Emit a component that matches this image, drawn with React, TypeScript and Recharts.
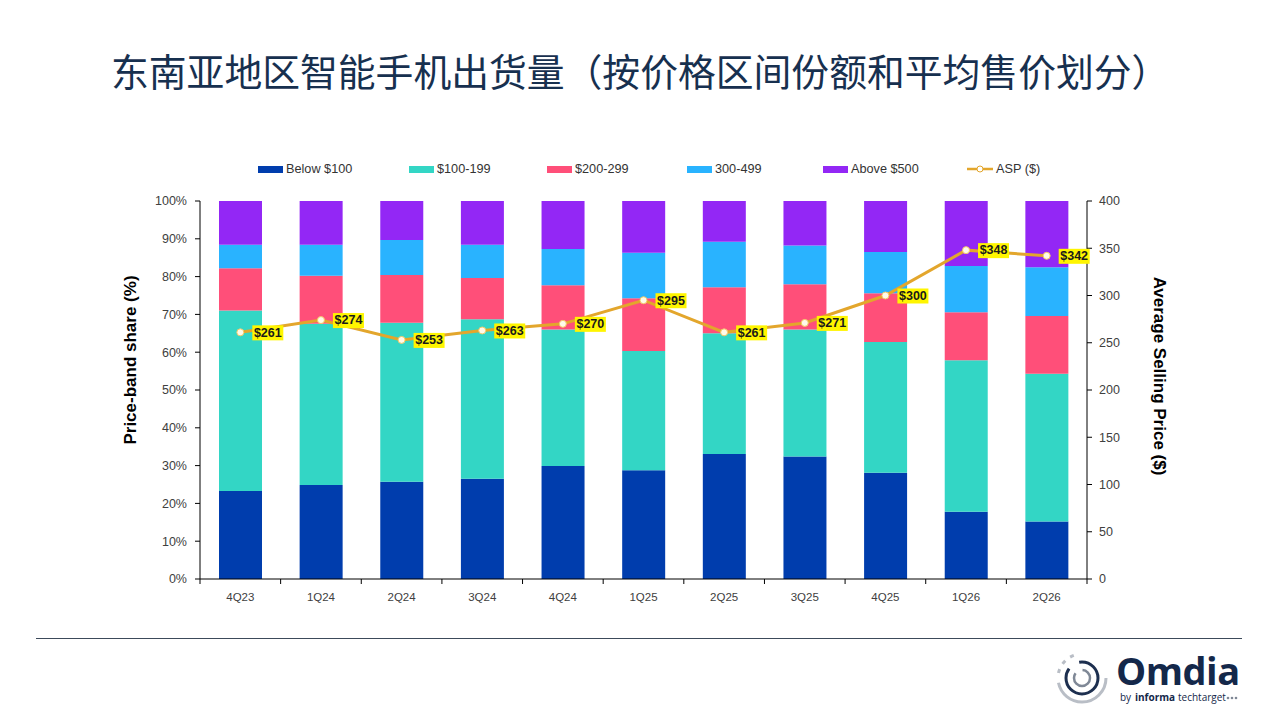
import React from "react";
import {
  ComposedChart,
  Bar,
  Line,
  XAxis,
  YAxis,
  LabelList,
} from "recharts";

const quarters = ["4Q23", "1Q24", "2Q24", "3Q24", "4Q24", "1Q25", "2Q25", "3Q25", "4Q25", "1Q26", "2Q26"];

// price-band shares (%), bottom to top of each stack
const below100 = [23.3, 24.9, 25.7, 26.5, 29.9, 28.8, 33.1, 32.4, 28.1, 17.8, 15.2];
const band100to199 = [47.7, 42.6, 42.1, 42.2, 36.1, 31.5, 31.9, 33.6, 34.6, 40.1, 39.1];
const band200to299 = [11.2, 12.7, 12.6, 10.9, 11.7, 14.0, 12.2, 12.0, 12.9, 12.7, 15.3];
const band300to499 = [6.2, 8.2, 9.3, 8.8, 9.6, 12.0, 12.0, 10.2, 10.9, 12.2, 12.9];
const above500 = [11.6, 11.6, 10.3, 11.6, 12.7, 13.7, 10.8, 11.8, 13.5, 17.2, 17.5];

const asp = [261, 274, 253, 263, 270, 295, 261, 271, 300, 348, 342];

const shareTicks = [0, 10, 20, 30, 40, 50, 60, 70, 80, 90, 100];
const aspTicks = [0, 50, 100, 150, 200, 250, 300, 350, 400];

const SERIES = [
  { key: "below100", name: "Below $100", color: "#003DAD", values: below100 },
  { key: "b100", name: "$100-199", color: "#33D6C5", values: band100to199 },
  { key: "b200", name: "$200-299", color: "#FF4F79", values: band200to299 },
  { key: "b300", name: "300-499", color: "#29B3FF", values: band300to499 },
  { key: "above500", name: "Above $500", color: "#9327F5", values: above500 },
];

const LINE_COLOR = "#E3A62C";
const FONT = '"Liberation Sans", Arial, sans-serif';

// plot area in page pixels
const PLOT_LEFT = 200;
const PLOT_RIGHT = 1087;
const BAND = (PLOT_RIGHT - PLOT_LEFT) / quarters.length;

const LEGEND_LEFT = [258, 409, 547, 687, 823, 967];

const data = quarters.map((q, i) => {
  const row: Record<string, number | string> = { quarter: q, asp: asp[i] };
  SERIES.forEach((s) => {
    row[s.key] = s.values[i];
  });
  return row;
});

function QuarterTick(props: any) {
  const { x, y, payload, index } = props;
  const last = index === quarters.length - 1;
  return (
    <g>
      <line x1={x - BAND / 2} x2={x - BAND / 2} y1={y} y2={y + 5} stroke="#000" />
      {last && <line x1={x + BAND / 2} x2={x + BAND / 2} y1={y} y2={y + 5} stroke="#000" />}
      <text
        x={x}
        y={y + 19}
        textAnchor="middle"
        dominantBaseline="middle"
        fontSize={11.5}
        fontFamily={FONT}
        fill="#404040"
      >
        {payload.value}
      </text>
    </g>
  );
}

function AspLabel(props: any) {
  const { x, y, value } = props;
  return (
    <g>
      <rect x={x + 12} y={y - 7} width={31} height={15} fill="#FFF500" />
      <text
        x={x + 27.5}
        y={y + 1}
        textAnchor="middle"
        dominantBaseline="middle"
        fontSize={12.5}
        fontWeight="bold"
        fontFamily={FONT}
        fill="#1a1a1a"
      >
        ${value}
      </text>
    </g>
  );
}

function OmdiaLogo() {
  const small = { fontFamily: '"Open Sans", sans-serif', fontSize: 10, fill: "#14284a" };
  return (
    <div style={{ position: "absolute", left: 1054, top: 650 }}>
      <svg width={190} height={60} style={{ position: "absolute", left: 0, top: 0 }}>
        <circle cx={28} cy={28} r={24} fill="none" stroke="#b9bec6" strokeWidth={3} strokeDasharray="70 10 4 6 4 6 4 50" />
        <circle cx={28} cy={28} r={16} fill="none" stroke="#1d2f4f" strokeWidth={3} strokeDasharray="60 12" />
        <circle cx={28} cy={28} r={8} fill="none" stroke="#7f8896" strokeWidth={2.5} strokeDasharray="30 8" />
        <text x={66} y={51} {...small}>by</text>
        <text x={81} y={51} {...small} fontWeight={700}>informa</text>
        <text x={124} y={51} {...small}>techtarget</text>
        <circle cx={174} cy={48} r={1.3} fill="#7f8896" />
        <circle cx={178} cy={48} r={1.3} fill="#7f8896" />
        <circle cx={182} cy={48} r={1.3} fill="#7f8896" />
      </svg>
      <div
        style={{
          position: "absolute",
          left: 62,
          top: 2,
          fontFamily: '"Open Sans", sans-serif',
          fontWeight: 700,
          fontSize: 38,
          lineHeight: "36px",
          color: "#14284a",
          letterSpacing: -0.5,
        }}
      >
        Omdia
      </div>
    </div>
  );
}

export default function App() {
  return (
    <div
      style={{
        position: "absolute",
        left: 0,
        top: 0,
        width: 1280,
        height: 720,
        background: "#fff",
        overflow: "hidden",
        fontFamily: FONT,
      }}
    >
      <div
        style={{
          position: "absolute",
          left: 111,
          top: 49,
          fontFamily: '"Noto Sans CJK SC", sans-serif',
          fontSize: 37.8,
          lineHeight: "42px",
          color: "#17304f",
          whiteSpace: "nowrap",
        }}
      >
        东南亚地区智能手机出货量（按价格区间份额和平均售价划分）
      </div>

      {/* legend */}
      {SERIES.map((s, i) => (
        <div
          key={s.key}
          style={{ position: "absolute", left: LEGEND_LEFT[i], top: 162, display: "flex", alignItems: "center", height: 14 }}
        >
          <div style={{ width: 25, height: 7, background: s.color, marginRight: 3 }} />
          <span style={{ fontSize: 12.7, color: "#333", whiteSpace: "nowrap" }}>{s.name}</span>
        </div>
      ))}
      <div style={{ position: "absolute", left: LEGEND_LEFT[5], top: 162, display: "flex", alignItems: "center", height: 14 }}>
        <svg width={26} height={10} style={{ marginRight: 3 }}>
          <line x1={0} x2={26} y1={5} y2={5} stroke={LINE_COLOR} strokeWidth={2.5} />
          <circle cx={13} cy={5} r={3} fill="#fff" stroke={LINE_COLOR} strokeWidth={1} />
        </svg>
        <span style={{ fontSize: 12.7, color: "#333", whiteSpace: "nowrap" }}>ASP ($)</span>
      </div>

      <div
        style={{
          position: "absolute",
          left: 131,
          top: 360,
          transform: "translate(-50%, -50%) rotate(-90deg)",
          fontSize: 17,
          fontWeight: "bold",
          color: "#000",
          whiteSpace: "nowrap",
        }}
      >
        Price-band share (%)
      </div>
      <div
        style={{
          position: "absolute",
          left: 1159,
          top: 376,
          transform: "translate(-50%, -50%) rotate(90deg)",
          fontSize: 17,
          fontWeight: "bold",
          color: "#000",
          whiteSpace: "nowrap",
        }}
      >
        Average Selling Price ($)
      </div>

      <div style={{ position: "absolute", left: 0, top: 0 }}>
        <ComposedChart
          width={1280}
          height={720}
          data={data}
          margin={{ top: 201, right: 133, bottom: 111, left: 140 }}
        >
          <XAxis
            dataKey="quarter"
            height={30}
            axisLine={{ stroke: "#000" }}
            tickLine={false}
            tickSize={0}
            tickMargin={0}
            tick={<QuarterTick />}
            interval={0}
          />
          <YAxis
            yAxisId="share"
            width={60}
            domain={[0, 100]}
            ticks={shareTicks}
            interval={0}
            tickFormatter={(v: number) => `${v}%`}
            axisLine={{ stroke: "#000" }}
            tickLine={{ stroke: "#000" }}
            tickSize={5}
            tickMargin={8}
            tick={{ fontSize: 12.5, fill: "#404040", fontFamily: FONT }}
          />
          <YAxis
            yAxisId="asp"
            orientation="right"
            width={60}
            domain={[0, 400]}
            ticks={aspTicks}
            interval={0}
            axisLine={{ stroke: "#000" }}
            tickLine={{ stroke: "#000" }}
            tickSize={5}
            tickMargin={7}
            tick={{ fontSize: 12.5, fill: "#404040", fontFamily: FONT }}
          />
          {SERIES.map((s) => (
            <Bar
              key={s.key}
              yAxisId="share"
              dataKey={s.key}
              name={s.name}
              stackId="share"
              fill={s.color}
              barSize={43}
              isAnimationActive={false}
            />
          ))}
          <Line
            yAxisId="asp"
            type="linear"
            dataKey="asp"
            name="ASP ($)"
            stroke={LINE_COLOR}
            strokeWidth={3}
            dot={{ r: 3.5, fill: "#fffbea", stroke: "#f3c865", strokeWidth: 1 }}
            isAnimationActive={false}
          >
            <LabelList dataKey="asp" content={<AspLabel />} />
          </Line>
        </ComposedChart>
      </div>

      <div style={{ position: "absolute", left: 36, top: 638, width: 1206, height: 1, background: "#3c4a5a" }} />

      <OmdiaLogo />
    </div>
  );
}
